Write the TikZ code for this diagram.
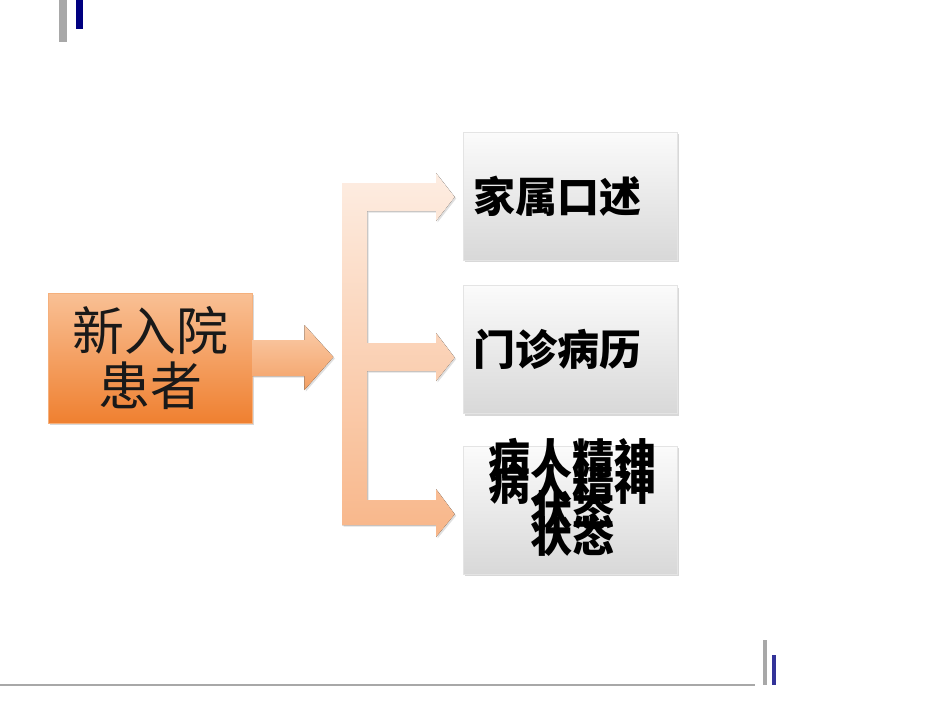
\documentclass[tikz,border=0pt]{standalone}
\usepackage{fontspec}
\newfontfamily\cjk{Noto Sans CJK SC}
\usepackage{tikz}
\usetikzlibrary{positioning,calc,shadows}

\definecolor{orangetop}{HTML}{F9C095}
\definecolor{orangebot}{HTML}{EF8030}
\definecolor{orangeedge}{HTML}{F5B07C}
\definecolor{forktop}{HTML}{FDEDE2}
\definecolor{forkbot}{HTML}{F8B689}
\definecolor{boxtop}{HTML}{FBFBFB}
\definecolor{boxbot}{HTML}{D8D8D8}
\definecolor{boxedge}{HTML}{E4E4E4}
\definecolor{barnavy}{HTML}{000080}
\definecolor{barblue}{HTML}{333399}
\definecolor{bargray}{HTML}{A8A8A8}

\begin{document}
\begin{tikzpicture}[
    x=1pt, y=-1pt,
    node distance=25pt,
    patientbox/.style={draw=orangeedge, line width=0.8pt, top color=orangetop, bottom color=orangebot,
      minimum width=204pt, minimum height=130pt, align=center, text=black!90,
      font=\cjk\fontsize{52}{55}\selectfont,
      drop shadow={shadow xshift=2pt, shadow yshift=-2pt, opacity=0.3}},
    sourcebox/.style={draw=boxedge, line width=0.6pt, top color=boxtop, bottom color=boxbot,
      minimum width=214pt, minimum height=128pt, inner sep=10pt, text width=194pt, align=left,
      font=\cjk\bfseries\fontsize{42}{52}\selectfont,
      drop shadow={shadow xshift=2pt, shadow yshift=-2pt, opacity=0.3}},
    boxtext/.style={align=center, font=\cjk\bfseries\fontsize{42}{52}\selectfont}
  ]
    % 背景
    \fill[white] (0,0) rectangle (950,713);
    \useasboundingbox (0,0) rectangle (950,713);

    % 页面装饰条
    \fill[bargray] (59,0) rectangle (67,42);
    \fill[barnavy] (76,0) rectangle (83,29);
    \draw[bargray, line width=1.2pt] (0,685) -- (755,685);
    \fill[bargray] (763,640) rectangle (767,685);
    \fill[barblue] (772,655) rectangle (776,685);

    % 节点
    \node[patientbox] (patient) at (150,358) {新入院\\患者};
    \node[sourcebox] (family) at (570,196) {家属口述};
    \node[sourcebox, below=25pt of family] (record) {门诊病历};
    \node[sourcebox, below=32pt of record] (mental) {};
    \node[boxtext] (mentalA) at ($(mental.center)+(2,-26)$) {病人精神\\状态};
    \node[boxtext] (mentalB) at ($(mental.center)+(2,0)$) {病人精神\\状态};

    % 箭头(新入院患者 → 分叉)
    \fill[top color=orangetop!80!white, bottom color=orangebot!75!white,
      drop shadow={shadow xshift=1.5pt, shadow yshift=-1.5pt, opacity=0.25}]
      ($(patient.east)+(0,-18)$) -- ++(52,0) -- ++(0,-15) -- ++(29,32)
      -- ++(-29,33) -- ++(0,-14) -- ++(-52,0) -- cycle;

    % 分叉箭头(→ 三个来源)
    \fill[top color=forktop, bottom color=forkbot,
      drop shadow={shadow xshift=1.5pt, shadow yshift=-1.5pt, opacity=0.25}]
      (342,183) -- (436,183) -- (436,173) -- ($(family.west)+(-8,1)$) -- (436,221) -- (436,211)
      -- (367,211) -- (367,343) -- (436,343) -- (436,333) -- ($(record.west)+(-8,8)$)
      -- (436,381) -- (436,371) -- (367,371) -- (367,500) -- (436,500) -- (436,489)
      -- ($(mental.west)+(-8,4)$) -- (436,537) -- (436,525) -- (342,525) -- cycle;

  \end{tikzpicture}
\end{document}
